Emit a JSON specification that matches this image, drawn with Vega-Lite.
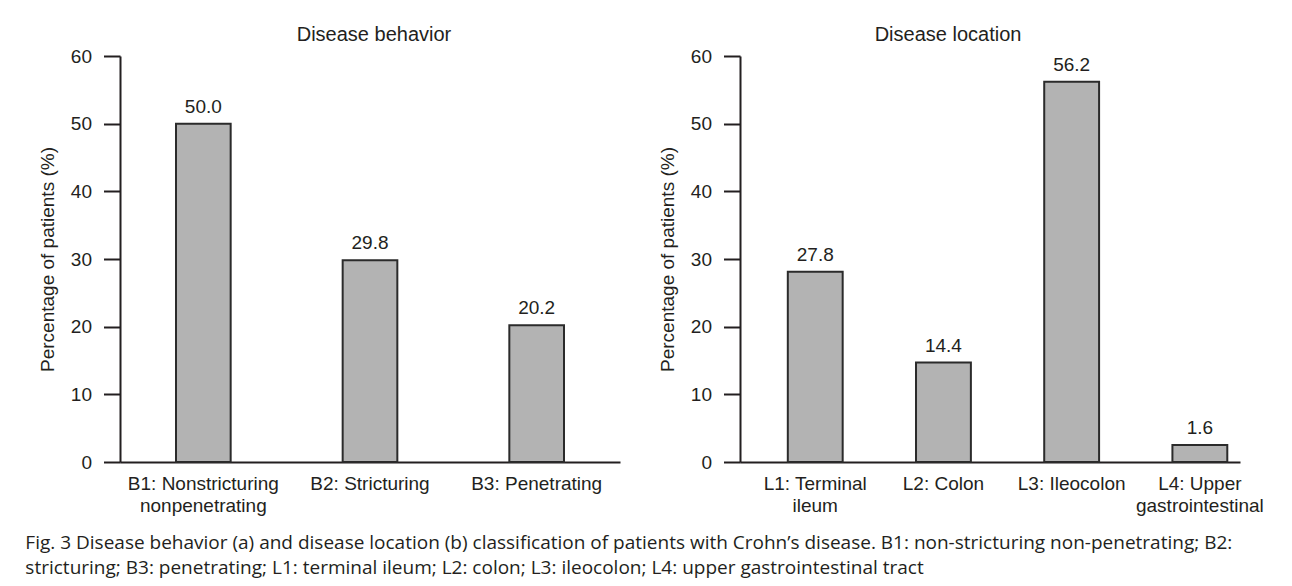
{
  "$schema": "https://vega.github.io/schema/vega-lite/v6.json",
  "background": "white",
  "padding": {"left": 25, "top": 25, "right": 0, "bottom": 0},
  "title": {
    "text": ["Fig. 3 Disease behavior (a) and disease location (b) classification of patients with Crohn’s disease. B1: non-stricturing non-penetrating; B2:", "stricturing; B3: penetrating; L1: terminal ileum; L2: colon; L3: ileocolon; L4: upper gastrointestinal tract"],
    "orient": "bottom",
    "anchor": "start",
    "font": "Open Sans",
    "fontSize": 19,
    "fontWeight": "normal",
    "lineHeight": 25,
    "color": "#231f20",
    "dx": -13,
    "offset": 19
  },
  "spacing": 38,
  "hconcat": [
    {
      "width": 500,
      "height": 406,
      "title": {"text": "Disease behavior", "fontSize": 20, "fontWeight": "normal", "font": "Liberation Sans", "color": "#231f20", "offset": 2, "dx": 4},
      "data": {"values": [
        {"category": "B1: Nonstricturing nonpenetrating", "bar": 50.0, "label": "50.0"},
        {"category": "B2: Stricturing", "bar": 29.8, "label": "29.8"},
        {"category": "B3: Penetrating", "bar": 20.2, "label": "20.2"}
      ]},
      "encoding": {
        "x": {"field": "category", "type": "nominal", "sort": null,
          "scale": {"paddingInner": 0.672, "paddingOuter": 0.336},
          "axis": {"title": null, "ticks": false, "labelAngle": 0, "labelFontSize": 19, "labelPadding": 12, "labelLineHeight": 22, "labelOverlap": false, "labelLimit": 400, "labelColor": "#231f20", "domainColor": "#231f20", "domainWidth": 2,
            "labelExpr": "indexof(slice(datum.label, 4), ' ') >= 0 ? [slice(datum.label, 0, 4 + indexof(slice(datum.label, 4), ' ')), slice(datum.label, 5 + indexof(slice(datum.label, 4), ' '))] : datum.label"}},
        "y": {"field": "bar", "type": "quantitative",
          "scale": {"domain": [0, 60]},
          "axis": {"title": "Percentage of patients (%)", "values": [0, 10, 20, 30, 40, 50, 60], "grid": false, "tickSize": 16.5, "tickWidth": 2, "tickColor": "#231f20", "domainColor": "#231f20", "domainWidth": 2, "labelFontSize": 19, "labelPadding": 12, "labelColor": "#231f20", "titleFontSize": 19, "titleFontWeight": "normal", "titleColor": "#231f20", "titlePadding": 13}}
      },
      "layer": [
        {"mark": {"type": "bar", "fill": "#b3b3b3", "stroke": "#2b2b2b", "strokeWidth": 2}},
        {"mark": {"type": "text", "baseline": "alphabetic", "dy": -11, "fontSize": 19, "color": "#231f20"}, "encoding": {"text": {"field": "label"}}}
      ]
    },
    {
      "width": 500,
      "height": 406,
      "title": {"text": "Disease location", "fontSize": 20, "fontWeight": "normal", "font": "Liberation Sans", "color": "#231f20", "offset": 2, "dx": -42},
      "data": {"values": [
        {"category": "L1: Terminal ileum", "bar": 28.1, "label": "27.8"},
        {"category": "L2: Colon", "bar": 14.7, "label": "14.4"},
        {"category": "L3: Ileocolon", "bar": 56.2, "label": "56.2"},
        {"category": "L4: Upper gastrointestinal", "bar": 2.5, "label": "1.6"}
      ]},
      "encoding": {
        "x": {"field": "category", "type": "nominal", "sort": null,
          "scale": {"paddingInner": 0.572, "paddingOuter": 0.236, "align": 0.79},
          "axis": {"title": null, "ticks": false, "labelAngle": 0, "labelFontSize": 19, "labelPadding": 12, "labelLineHeight": 22, "labelOverlap": false, "labelLimit": 400, "labelColor": "#231f20", "domainColor": "#231f20", "domainWidth": 2,
            "labelExpr": "indexof(slice(datum.label, 4), ' ') >= 0 ? [slice(datum.label, 0, 4 + indexof(slice(datum.label, 4), ' ')), slice(datum.label, 5 + indexof(slice(datum.label, 4), ' '))] : datum.label"}},
        "y": {"field": "bar", "type": "quantitative",
          "scale": {"domain": [0, 60]},
          "axis": {"title": "Percentage of patients (%)", "values": [0, 10, 20, 30, 40, 50, 60], "grid": false, "tickSize": 16.5, "tickWidth": 2, "tickColor": "#231f20", "domainColor": "#231f20", "domainWidth": 2, "labelFontSize": 19, "labelPadding": 12, "labelColor": "#231f20", "titleFontSize": 19, "titleFontWeight": "normal", "titleColor": "#231f20", "titlePadding": 13}}
      },
      "layer": [
        {"mark": {"type": "bar", "fill": "#b3b3b3", "stroke": "#2b2b2b", "strokeWidth": 2}},
        {"mark": {"type": "text", "baseline": "alphabetic", "dy": -11, "fontSize": 19, "color": "#231f20"}, "encoding": {"text": {"field": "label"}}}
      ]
    }
  ],
  "config": {
    "view": {"stroke": null},
    "font": "Liberation Sans"
  }
}
